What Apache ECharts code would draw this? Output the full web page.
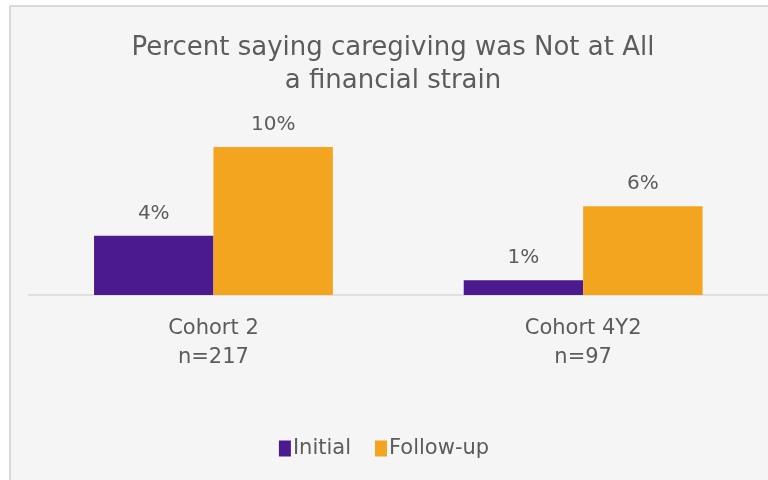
<!DOCTYPE html>
<html>
<head>
<meta charset="utf-8">
<script src="https://cdn.jsdelivr.net/npm/echarts@6/dist/echarts.min.js"></script>
<style>
  html, body { margin: 0; padding: 0; background: #ffffff; }
  #chart { width: 768px; height: 480px; }
</style>
</head>
<body>
<div id="chart"></div>
<script>
// Categories and values (percent)
const categories = ['Cohort 2\nn=217', 'Cohort 4Y2\nn=97'];
const initialValues = [4, 1];
const followUpValues = [10, 6];
const seriesNames = ['Initial', 'Follow-up'];

const FONT = '"DejaVu Sans", sans-serif';
const TEXT = '#5c5c5c';

const chart = echarts.init(document.getElementById('chart'));

const labelStyle = {
  show: true,
  position: 'top',
  distance: 12,
  formatter: p => p.value + '%',
  color: TEXT,
  fontFamily: FONT,
  fontSize: 20
};

chart.setOption({
  backgroundColor: 'transparent',
  graphic: [{
    type: 'rect',
    z: -10,
    silent: true,
    shape: { x: 10, y: 6, width: 800, height: 520 },
    style: { fill: '#f5f5f5', stroke: '#d9d9d9', lineWidth: 2 }
  }],
  title: {
    text: 'Percent saying caregiving was Not at All\na financial strain',
    left: 388,
    textAlign: 'center',
    top: 27,
    textStyle: {
      color: TEXT,
      fontFamily: FONT,
      fontSize: 26,
      fontWeight: 'normal',
      lineHeight: 33
    }
  },
  legend: {
    data: seriesNames,
    bottom: 16,
    left: 'center',
    itemWidth: 12,
    itemHeight: 16,
    itemGap: 24,
    icon: 'rect',
    textStyle: { color: TEXT, fontFamily: FONT, fontSize: 21, padding: [0, 0, 0, -3] }
  },
  grid: { left: 28.6, right: -3.4, bottom: 185, height: 177.6, containLabel: false },
  xAxis: {
    type: 'category',
    data: categories,
    axisLine: { lineStyle: { color: '#d9d9d9', width: 1.5 } },
    axisTick: { show: false },
    axisLabel: {
      color: TEXT,
      fontFamily: FONT,
      fontSize: 21,
      lineHeight: 29,
      margin: 19
    }
  },
  yAxis: {
    type: 'value',
    min: 0,
    max: 12,
    show: false
  },
  series: [
    {
      name: seriesNames[0],
      type: 'bar',
      data: initialValues,
      barGap: '0%',
      barCategoryGap: '35.4%',
      itemStyle: { color: '#4a1a8e' },
      label: labelStyle
    },
    {
      name: seriesNames[1],
      type: 'bar',
      data: followUpValues,
      itemStyle: { color: '#f4a51f' },
      label: labelStyle
    }
  ]
});
</script>
</body>
</html>
